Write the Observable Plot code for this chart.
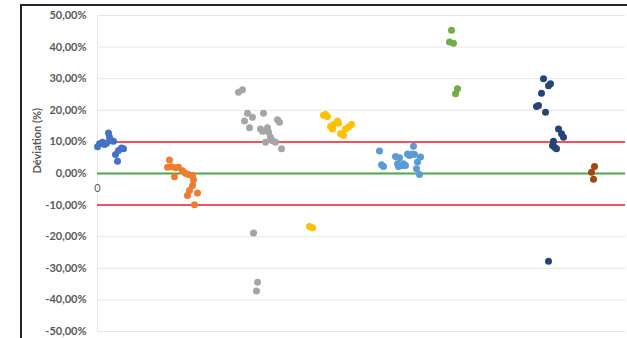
<!DOCTYPE html>
<html>
<head>
<meta charset="utf-8">
<script src="https://cdn.jsdelivr.net/npm/d3@7"></script>
<script src="https://cdn.jsdelivr.net/npm/@observablehq/plot@0.6"></script>
<style>
  html, body { margin: 0; padding: 0; background: #fff; }
  #wrap { position: relative; width: 627px; height: 338px; overflow: hidden; }
  #border { position: absolute; left: 20px; top: 4px; width: 700px; height: 400px;
            border-top: 2px solid #262626; border-left: 2px solid #262626; pointer-events: none; }
</style>
</head>
<body>
<div id="wrap"><div id="chart"></div><div id="border"></div></div>
<script>
// Series (Excel default palette), points as [x position, deviation %]
const seriesNames = ["S1", "S2", "S3", "S4", "S5", "S6", "S7", "S8"];
const seriesColors = ["#4472C4", "#ED7D31", "#A5A5A5", "#FFC000", "#5B9BD5", "#70AD47", "#264478", "#9E480E"];

const s1 = [[0.0,8.5],[0.2,9.4],[0.5,9.9],[0.7,9.2],[0.9,9.6],[1.1,12.8],[1.2,11.5],[1.4,10.4],[1.6,10.2],[1.8,6.0],[2.0,3.9],[2.1,7.3],[2.4,8.1],[2.6,7.8]];
const s2 = [[7.2,4.3],[7.0,2.0],[7.4,2.1],[7.8,1.8],[8.1,2.0],[8.5,0.9],[8.8,0.1],[9.1,-0.3],[7.7,-1.0],[9.5,-0.6],[9.6,-2.0],[9.5,-3.8],[9.2,-5.4],[10.0,-6.2],[9.0,-7.0],[9.7,-9.9]];
const s3 = [[14.1,25.7],[14.5,26.5],[15.0,19.1],[14.7,16.6],[15.5,17.8],[15.2,14.5],[16.6,19.1],[16.3,14.1],[16.5,13.4],[17.0,14.5],[17.1,13.1],[17.3,11.5],[17.5,10.4],[16.8,9.9],[17.8,9.9],[18.0,17.0],[18.2,16.2],[18.4,7.8],[15.6,-18.8],[16.0,-34.4],[15.9,-37.2]];
const s4 = [[22.6,18.4],[22.8,18.7],[23.0,18.0],[23.3,14.9],[23.5,14.1],[23.6,15.5],[24.0,16.6],[24.1,15.9],[24.3,12.6],[24.6,12.0],[24.8,14.1],[25.1,14.7],[25.4,15.5],[21.2,-16.8],[21.5,-17.2]];
const s5 = [[28.2,7.1],[28.4,2.8],[28.6,2.2],[29.8,5.4],[30.0,3.1],[30.2,5.0],[30.1,2.2],[30.5,2.5],[30.6,3.1],[30.8,2.5],[31.0,6.2],[31.2,5.7],[31.5,6.2],[31.6,8.6],[31.7,6.0],[32.0,3.6],[32.3,5.2],[31.9,1.5],[32.2,-0.3]];
const s6 = [[35.4,45.3],[35.2,41.6],[35.6,41.2],[36.0,26.8],[35.8,25.2]];
const s7 = [[44.6,30.0],[45.1,27.8],[45.3,28.4],[44.4,25.4],[43.9,21.2],[44.1,21.5],[44.8,19.4],[46.1,14.1],[46.4,12.6],[46.6,11.5],[45.6,10.2],[45.5,8.9],[45.7,8.3],[45.9,7.8],[45.1,-27.8]];
const s8 = [[49.7,2.2],[49.4,0.4],[49.6,-1.8]];

const yTicks = [50, 40, 30, 20, 10, 0, -10, -20, -30, -40, -50];
const xTicks = [0];
const limitValues = [10, -10];
const zeroValue = [0];

const seriesData = [s1, s2, s3, s4, s5, s6, s7, s8];
const points = seriesData.flatMap((arr, i) => arr.map(([x, y]) => ({series: seriesNames[i], x, y})));

const fmt = v => v.toFixed(2).replace(".", ",") + "%";
const font = "Lato, 'Open Sans', sans-serif";

const chart = Plot.plot({
  width: 627,
  height: 338,
  marginLeft: 97,
  marginRight: 2,
  marginTop: 15,
  marginBottom: 7,
  style: { fontFamily: font, background: "transparent" },
  x: { domain: [0, 52.8], axis: null },
  y: { domain: [-50, 50], axis: null },
  color: { domain: seriesNames, range: seriesColors },
  marks: [
    Plot.gridY(yTicks, { stroke: "#E6E6E6", strokeOpacity: 1, strokeWidth: 1 }),
    Plot.ruleX([0], { stroke: "#E6E6E6", strokeWidth: 1 }),
    Plot.axisY(yTicks, { tickSize: 0, tickPadding: 11, tickFormat: fmt, fontSize: 11, fontWeight: "bold", fill: "#595959", label: null }),
    Plot.text(["Déviation (%)"], { frameAnchor: "left", dx: -60, rotate: -90, text: d => d, fontSize: 11, fontWeight: "bold", fill: "#595959" }),
    Plot.ruleY(limitValues, { stroke: "#EE1C2E", strokeWidth: 1.5 }),
    Plot.ruleY(zeroValue, { stroke: "#4FA64F", strokeWidth: 2 }),
    Plot.text(xTicks, { x: d => d, y: 0, dy: 15, text: d => String(d), fontSize: 11, fill: "#595959" }),
    Plot.dot(points, { x: "x", y: "y", fill: "series", r: 3.5, stroke: null })
  ]
});
document.getElementById("chart").appendChild(chart);
</script>
</body>
</html>
